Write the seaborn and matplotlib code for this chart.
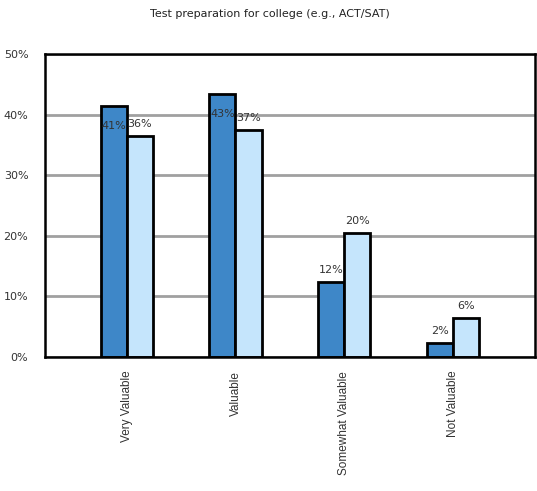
import matplotlib
matplotlib.use('Agg')
import matplotlib.pyplot as plt
import pandas as pd
import seaborn as sns

categories = ['Very Valuable', 'Valuable', 'Somewhat Valuable', 'Not Valuable']
series_names = ['Series 1', 'Series 2']
series_1 = [41.4, 43.4, 12.3, 2.3]
series_2 = [36.4, 37.4, 20.4, 6.45]
yticks = [0, 10, 20, 30, 40, 50]

df = pd.DataFrame({
    'category': categories * 2,
    'series': [series_names[0]] * 4 + [series_names[1]] * 4,
    'value': series_1 + series_2,
})

sns.set_style('white')
plt.rcParams['font.family'] = ['DejaVu Sans']

fig = plt.figure(figsize=(5.37, 4.91), dpi=100)
ax = fig.add_axes([0.0838, 0.273, 0.912, 0.617])

sns.barplot(data=df, x='category', y='value', hue='series', order=categories,
            hue_order=series_names, palette=['#3e87c8', '#c5e5fc'],
            width=0.48, edgecolor='black', linewidth=2.0, saturation=1,
            legend=False, ax=ax)

ax.set_xlim(-0.75, 3.75)
ax.set_ylim(0, 50)
ax.set_yticks(yticks)
ax.set_yticklabels([f'{t}%' for t in yticks])
ax.yaxis.grid(True, color='#a0a0a0', linewidth=2.0)
ax.set_axisbelow(True)
ax.set_xlabel('')
ax.set_ylabel('')
ax.tick_params(axis='both', length=0, labelsize=8, labelcolor='#333333')
ax.tick_params(axis='y', pad=12)
ax.tick_params(axis='x', pad=10)
plt.setp(ax.get_xticklabels(), rotation=90, va='top', ha='center',
         family=['Liberation Sans', 'DejaVu Sans'], fontsize=8.5)
for side in ['left', 'top', 'right', 'bottom']:
    ax.spines[side].set_visible(True)
    ax.spines[side].set_color('black')
    ax.spines[side].set_linewidth(1.8)

# value labels; the two tall dark bars get their label pulled inside like the original
for i, cont in enumerate(ax.containers):
    for j, bar in enumerate(cont):
        v = bar.get_height()
        x = bar.get_x() + bar.get_width() / 2
        off = 5
        if i == 0 and series_1[j] > series_2[j] + 3:
            off = -18
        ax.annotate(f'{v:.0f}%', (x, v), xytext=(0, off), textcoords='offset points',
                    ha='center', va='bottom', fontsize=8, color='#333333')

fig.text(0.503, 0.972, 'Test preparation for college (e.g., ACT/SAT)',
         ha='center', va='center', fontsize=8, color='#222222')

fig.savefig('out.png', dpi=100)
